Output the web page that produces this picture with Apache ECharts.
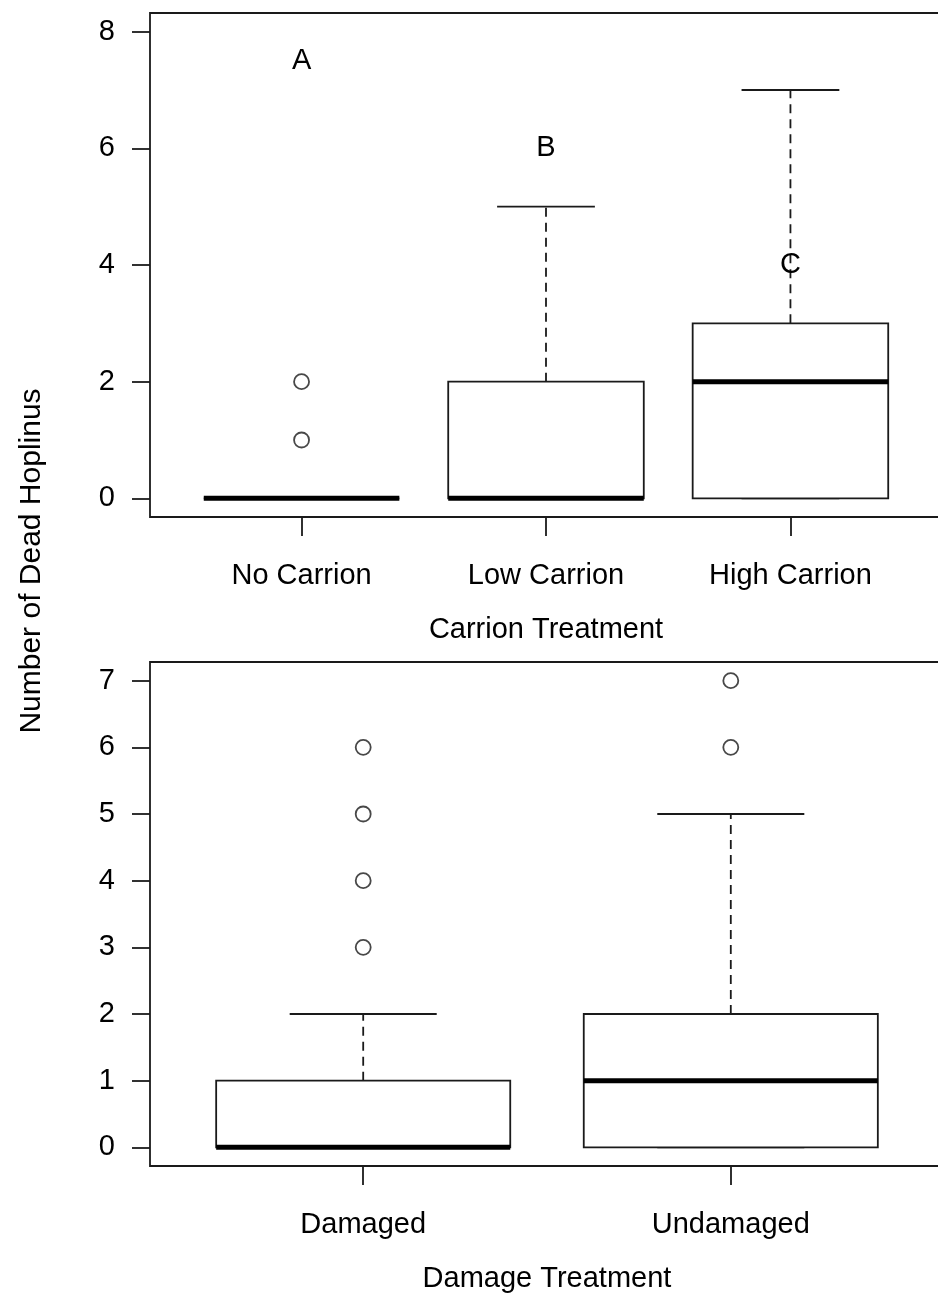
<!DOCTYPE html>
<html><head><meta charset="utf-8">
<script src="https://cdn.jsdelivr.net/npm/echarts@6/dist/echarts.min.js"></script>
<style>html,body{margin:0;padding:0;background:#fff}#c{width:938px;height:1294px}</style>
</head><body><div id="c"></div>
<script>
// ---- Data ----
const carrionCategories = ['No Carrion', 'Low Carrion', 'High Carrion'];
// [min, Q1, median, Q3, max]
const carrionBoxes = [[0, 0, 0, 0, 0], [0, 0, 0, 2, 5], [0, 0, 2, 3, 7]];
const carrionOutliers = [[1, 1], [1, 2]];            // [category position, value]
const carrionLetters = [[1, 7.5, 'A'], [2, 6, 'B'], [3, 4, 'C']];
const carrionYTicks = [0, 2, 4, 6, 8];

const damageCategories = ['Damaged', 'Undamaged'];
const damageBoxes = [[0, 0, 0, 1, 2], [0, 0, 1, 2, 5]];
const damageOutliers = [[1, 3], [1, 4], [1, 5], [1, 6], [2, 6], [2, 7]];
const damageYTicks = [0, 1, 2, 3, 4, 5, 6, 7];

const yTitle = 'Number of Dead Hoplinus';
const carrionTitle = 'Carrion Treatment';
const damageTitle = 'Damage Treatment';

// ---- Styling ----
const FONT = '"Liberation Sans", Arial, sans-serif';
const INK = '#000';
const LINE = '#1a1a1a';
const LW = 1.8;

function boxRender(params, api) {
  const x = api.value(0);
  const mn = api.value(1), q1 = api.value(2), md = api.value(3), q3 = api.value(4), mx = api.value(5);
  const unit = api.size([1, 0])[0];
  const hb = unit * 0.4, hc = unit * 0.2;
  const pMin = api.coord([x, mn]), pQ1 = api.coord([x, q1]), pMd = api.coord([x, md]);
  const pQ3 = api.coord([x, q3]), pMax = api.coord([x, mx]);
  const cx = pMd[0];
  const dashStyle = { stroke: LINE, lineWidth: LW, lineDash: [9, 6] };
  const solid = { stroke: LINE, lineWidth: LW };
  const children = [];
  if (mx > q3) children.push({ type: 'line', shape: { x1: cx, y1: pQ3[1], x2: cx, y2: pMax[1] }, style: dashStyle });
  if (mn < q1) children.push({ type: 'line', shape: { x1: cx, y1: pQ1[1], x2: cx, y2: pMin[1] }, style: dashStyle });
  children.push({ type: 'line', shape: { x1: cx - hc, y1: pMax[1], x2: cx + hc, y2: pMax[1] }, style: solid });
  children.push({ type: 'line', shape: { x1: cx - hc, y1: pMin[1], x2: cx + hc, y2: pMin[1] }, style: solid });
  children.push({ type: 'rect', shape: { x: cx - hb, y: pQ3[1], width: 2 * hb, height: pQ1[1] - pQ3[1] },
    style: { fill: '#fff', stroke: LINE, lineWidth: LW } });
  children.push({ type: 'line', shape: { x1: cx - hb, y1: pMd[1], x2: cx + hb, y2: pMd[1] },
    style: { stroke: '#000', lineWidth: 5, lineCap: 'butt' } });
  return { type: 'group', children };
}

function letterRender(params, api) {
  const p = api.coord([api.value(0), api.value(1)]);
  return { type: 'text', x: p[0], y: p[1],
    style: { text: carrionLetters[params.dataIndex][2], font: '29px ' + FONT, fill: INK, align: 'center', verticalAlign: 'middle' } };
}

function xAxisFor(idx, cats, title) {
  const n = cats.length;
  const pad = 0.04 * n;
  const ticks = cats.map((c, i) => i + 1);
  return {
    gridIndex: idx, type: 'value', min: 0.5 - pad, max: n + 0.5 + pad,
    axisLine: { show: false, onZero: false }, splitLine: { show: false },
    axisTick: { show: true, inside: false, customValues: ticks, length: 19, lineStyle: { color: LINE, width: LW } },
    axisLabel: { customValues: ticks, formatter: v => cats[Math.round(v) - 1] || '', margin: 44,
      fontSize: 29, fontFamily: FONT, color: INK },
    name: title, nameLocation: 'middle', nameGap: 98,
    nameTextStyle: { fontSize: 29, fontFamily: FONT, color: INK }
  };
}

function yAxisFor(idx, ticks) {
  const hi = ticks[ticks.length - 1], lo = ticks[0];
  const pad = 0.04 * (hi - lo);
  return {
    gridIndex: idx, type: 'value', min: lo - pad, max: hi + pad,
    axisLine: { show: false, onZero: false }, splitLine: { show: false },
    axisTick: { show: true, inside: false, customValues: ticks, length: 18, lineStyle: { color: LINE, width: LW } },
    axisLabel: { customValues: ticks, margin: 35, fontSize: 29, fontFamily: FONT, color: INK }
  };
}

const chart = echarts.init(document.getElementById('c'), null, { renderer: 'canvas' });
chart.setOption({
  animation: false,
  backgroundColor: '#fff',
  grid: [
    { left: 150, top: 13, width: 792, height: 504, show: true, borderColor: LINE, borderWidth: LW,
      backgroundColor: 'transparent', outerBoundsMode: 'none', containLabel: false },
    { left: 150, top: 662, width: 794, height: 504, show: true, borderColor: LINE, borderWidth: LW,
      backgroundColor: 'transparent', outerBoundsMode: 'none', containLabel: false }
  ],
  xAxis: [xAxisFor(0, carrionCategories, carrionTitle), xAxisFor(1, damageCategories, damageTitle)],
  yAxis: [yAxisFor(0, carrionYTicks), yAxisFor(1, damageYTicks)],
  graphic: [{
    type: 'text', x: 32, y: 561, rotation: Math.PI / 2,
    style: { text: yTitle, font: '30px ' + FONT, fill: INK, align: 'center', verticalAlign: 'middle' }
  }],
  series: [
    { type: 'custom', xAxisIndex: 0, yAxisIndex: 0, renderItem: boxRender, encode: { x: 0, y: [1, 2, 3, 4, 5] },
      data: carrionBoxes.map((b, i) => [i + 1].concat(b)), z: 2 },
    { type: 'scatter', xAxisIndex: 0, yAxisIndex: 0, data: carrionOutliers, symbol: 'circle', symbolSize: 15,
      itemStyle: { color: '#fff', borderColor: LINE, borderWidth: LW }, z: 3 },
    { type: 'custom', xAxisIndex: 0, yAxisIndex: 0, renderItem: letterRender, encode: { x: 0, y: 1 },
      data: carrionLetters.map(l => [l[0], l[1]]), z: 4 },
    { type: 'custom', xAxisIndex: 1, yAxisIndex: 1, renderItem: boxRender, encode: { x: 0, y: [1, 2, 3, 4, 5] },
      data: damageBoxes.map((b, i) => [i + 1].concat(b)), z: 2 },
    { type: 'scatter', xAxisIndex: 1, yAxisIndex: 1, data: damageOutliers, symbol: 'circle', symbolSize: 15,
      itemStyle: { color: '#fff', borderColor: LINE, borderWidth: LW }, z: 3 }
  ]
});
</script>
</body></html>
